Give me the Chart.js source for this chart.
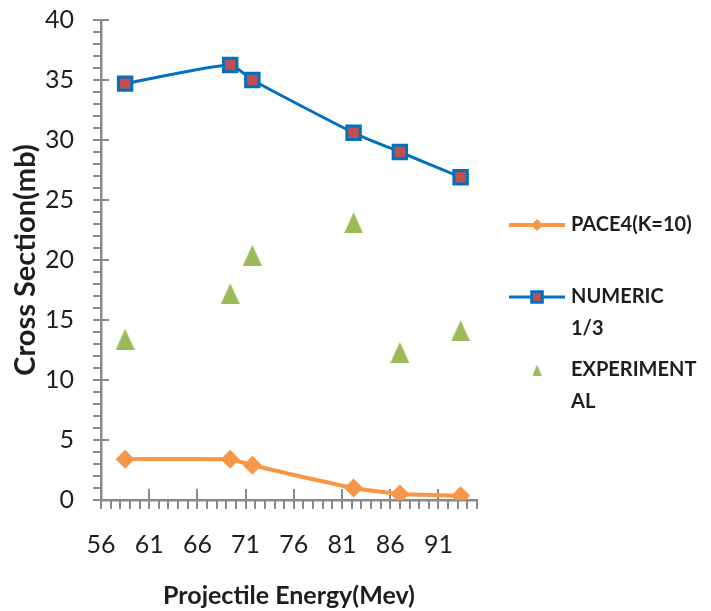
<!DOCTYPE html>
<html>
<head>
<meta charset="utf-8">
<title>Cross Section vs Projectile Energy</title>
<script src="https://cdn.jsdelivr.net/npm/chart.js@4.4.0/dist/chart.umd.min.js"></script>
<style>
  html, body { margin: 0; padding: 0; background: #fff; }
  #wrap { width: 711px; height: 611px; }
</style>
</head>
<body>
<div id="wrap"><canvas id="chart" width="711" height="611"></canvas></div>
<script>
// ---- data -------------------------------------------------------------
const energy       = [58.5, 69.4, 71.7, 82.2, 87.0, 93.3];
const pace4        = [3.4, 3.4, 2.9, 1.0, 0.5, 0.35];
const numeric      = [34.7, 36.25, 35.0, 30.6, 29.0, 26.9];
const experimental = [13.4, 17.2, 20.4, 23.1, 12.3, 14.1];

const xTicks = [56, 61, 66, 71, 76, 81, 86, 91];
const yTicks = [0, 5, 10, 15, 20, 25, 30, 35, 40];
const seriesNames = [['PACE4(K=10)'], ['NUMERIC', '1/3'], ['EXPERIMENT', 'AL']];

// ---- look -------------------------------------------------------------
const FONT = 'Lato, "Open Sans", sans-serif';
const AXIS_GRAY = '#8a8a8a';
const INK = '#1e1e1e';
const GREEN = '#9bbb59';

const toPoints = arr => energy.map((x, i) => ({ x, y: arr[i] }));

// tall triangle marker (chart.js' own triangle is equilateral)
function triangleMarker(w, h, color) {
    const c = document.createElement('canvas');
    c.width = w; c.height = h;
    const g = c.getContext('2d');
    g.fillStyle = color;
    g.beginPath();
    g.moveTo(w / 2, 0);
    g.lineTo(w, h);
    g.lineTo(0, h);
    g.closePath();
    g.fill();
    return c;
}
const bigTriangle = triangleMarker(19, 21, GREEN);
const smallTriangle = triangleMarker(9, 11, GREEN);

// office-style tick marks: majors cross the axis, minors hang outside
const tickMarks = {
    id: 'tickMarks',
    beforeDatasetsDraw(chart) {
        const { ctx, scales: { x, y } } = chart;
        ctx.save();
        ctx.strokeStyle = AXIS_GRAY;
        ctx.lineWidth = 2;
        ctx.beginPath();
        for (let v = x.min; v <= x.max; v++) {
            const px = Math.round(x.getPixelForValue(v));
            ctx.moveTo(px, xTicks.includes(v) ? x.top - 11 : x.top);
            ctx.lineTo(px, x.top + 9);
        }
        for (let v = y.min; v <= y.max; v++) {
            const py = Math.round(y.getPixelForValue(v));
            ctx.moveTo(y.right - 8, py);
            ctx.lineTo(yTicks.includes(v) ? y.right + 8 : y.right, py);
        }
        ctx.stroke();
        ctx.restore();
    }
};

// legend on the right, with wrapped labels
const sideLegend = {
    id: 'sideLegend',
    afterDraw(chart) {
        const { ctx } = chart;
        const rowY = [225, 297, 370];
        const markR = [6, 7.5, 5.5];
        chart.data.datasets.forEach((ds, i) => {
            const cy = rowY[i];
            ctx.save();
            if (ds.showLine !== false) {
                ctx.strokeStyle = ds.borderColor;
                ctx.lineWidth = ds.borderWidth;
                ctx.beginPath();
                ctx.moveTo(509, cy);
                ctx.lineTo(565, cy);
                ctx.stroke();
            }
            ctx.fillStyle = ds.pointBackgroundColor;
            ctx.strokeStyle = ds.pointBorderColor;
            ctx.lineWidth = ds.pointBorderWidth;
            Chart.helpers.drawPoint(ctx, {
                pointStyle: ds.pointStyle === bigTriangle ? smallTriangle : ds.pointStyle,
                rotation: 0, radius: markR[i], borderWidth: ds.pointBorderWidth
            }, 537, cy);
            ctx.fillStyle = INK;
            ctx.font = 'bold 20px ' + FONT;
            ctx.textBaseline = 'middle';
            ctx.textAlign = 'left';
            seriesNames[i].forEach((line, k) => ctx.fillText(line, 571, cy + k * 32));
            ctx.restore();
        });
    }
};

const noEdgePadding = s => { s.paddingTop = 0; s.paddingBottom = 0; s.paddingLeft = 0; s.paddingRight = 0; };

new Chart(document.getElementById('chart'), {
    type: 'scatter',
    data: {
        datasets: [
            {
                label: seriesNames[0].join(''),
                data: toPoints(pace4),
                showLine: true,
                tension: 0.15,
                borderColor: '#f79646',
                borderWidth: 4,
                pointStyle: 'rectRot',
                pointRadius: 9.5,
                pointBackgroundColor: '#f79646',
                pointBorderColor: '#f79646',
                pointBorderWidth: 0
            },
            {
                label: seriesNames[1].join(' '),
                data: toPoints(numeric),
                showLine: true,
                tension: 0.2,
                borderColor: '#0070c0',
                borderWidth: 3,
                pointStyle: 'rect',
                pointRadius: 9.5,
                pointBackgroundColor: '#c0504d',
                pointBorderColor: '#0070c0',
                pointBorderWidth: 3
            },
            {
                label: seriesNames[2].join(''),
                data: toPoints(experimental),
                showLine: false,
                pointStyle: bigTriangle,
                pointRadius: 11,
                pointBackgroundColor: GREEN,
                pointBorderColor: GREEN,
                pointBorderWidth: 0
            }
        ]
    },
    options: {
        responsive: false,
        animation: false,
        events: [],
        layout: { padding: { top: 20, right: 234, bottom: 0, left: 0 } },
        plugins: { legend: { display: false }, tooltip: { enabled: false } },
        scales: {
            x: {
                type: 'linear',
                min: 56, max: 95,
                afterBuildTicks: s => { s.ticks = xTicks.map(v => ({ value: v })); },
                afterFit: s => { s.height = 111; noEdgePadding(s); },
                grid: { display: false, drawTicks: false },
                border: { display: true, color: AXIS_GRAY, width: 2.5 },
                ticks: { padding: 30, color: INK, font: { family: FONT, size: 25 } },
                title: {
                    display: true, text: 'Projectile Energy(Mev)', color: INK,
                    padding: { top: 4, bottom: 0 }, font: { family: FONT, size: 25, weight: 'bold' }
                }
            },
            y: {
                type: 'linear',
                min: 0, max: 40,
                afterBuildTicks: s => { s.ticks = yTicks.map(v => ({ value: v })); },
                afterFit: s => { s.width = 101; noEdgePadding(s); },
                grid: { display: false, drawTicks: false },
                border: { display: true, color: AXIS_GRAY, width: 2.5 },
                ticks: { padding: 27, color: INK, font: { family: FONT, size: 25 } },
                title: {
                    display: true, text: 'Cross Section(mb)', color: INK,
                    padding: 8, font: { family: FONT, size: 29, weight: 'bold' }
                }
            }
        }
    },
    plugins: [tickMarks, sideLegend]
});
</script>
</body>
</html>
